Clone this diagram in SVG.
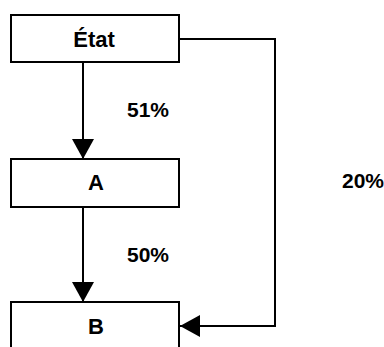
<svg xmlns="http://www.w3.org/2000/svg" width="384" height="347" viewBox="0 0 384 347">
<style>
.box{fill:#fff;stroke:#000;stroke-width:2}
.lbl{font-family:"Liberation Sans",Arial,sans-serif;font-weight:bold;font-size:21px;fill:#000}
.nl{font-size:22px;text-anchor:middle}
.edge{fill:none;stroke:#000;stroke-width:2}
</style>
<defs>
<marker id="ah" viewBox="0 0 20 22" refX="20" refY="11" markerWidth="20" markerHeight="22" markerUnits="userSpaceOnUse" orient="auto">
<path d="M0,0 L20,11 L0,22 Z" fill="#000"/>
</marker>
</defs>
<g id="connectors">
<line class="edge" x1="83" y1="62" x2="83" y2="159" marker-end="url(#ah)"/>
<line class="edge" x1="83" y1="207" x2="83" y2="302" marker-end="url(#ah)"/>
<polyline class="edge" points="179,39 275,39 275,326 180,326" marker-end="url(#ah)"/>
</g>
<g id="node-etat">
<rect class="box" x="11" y="15" width="168" height="47"/>
<text class="lbl nl" x="94" y="47">État</text>
</g>
<g id="node-a">
<rect class="box" x="11" y="159" width="168" height="48"/>
<text class="lbl nl" x="96" y="190">A</text>
</g>
<g id="node-b">
<rect class="box" x="11" y="302" width="168" height="60"/>
<text class="lbl nl" x="96" y="334">B</text>
</g>
<g id="labels">
<text class="lbl" x="127" y="117">51%</text>
<text class="lbl" x="127" y="262">50%</text>
<text class="lbl" x="342" y="188">20%</text>
</g>
</svg>
